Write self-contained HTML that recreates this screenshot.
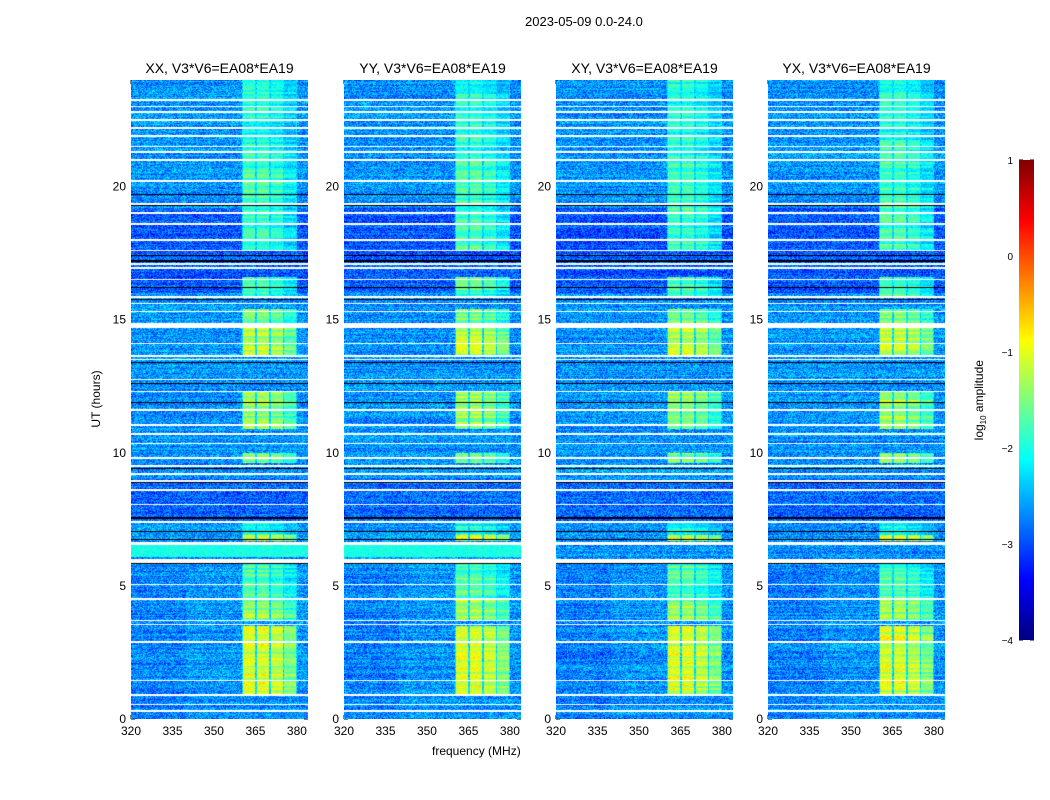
<!DOCTYPE html>
<html><head><meta charset="utf-8">
<style>
body{margin:0;background:#fff;font-family:"Liberation Sans",sans-serif;}
#root{position:relative;width:1050px;height:800px;overflow:hidden;}
.t{position:absolute;white-space:nowrap;color:#000;}
canvas{position:absolute;}
</style></head>
<body>
<div id="root">
<div class="t" style="left:525px;top:14px;font-size:13px;">2023-05-09 0.0-24.0</div>
<div class="t" style="left:432px;top:744px;font-size:12px;">frequency (MHz)</div>
<div class="t" style="left:56px;top:392px;font-size:12px;transform:rotate(-90deg);transform-origin:center;width:80px;text-align:center;">UT (hours)</div>
<div class="t" style="left:930px;top:392px;font-size:12px;transform:rotate(-90deg);width:100px;text-align:center;">log<sub style="font-size:8px">10</sub> amplitude</div>
<svg id="ax" width="1050" height="800" style="position:absolute;left:0;top:0"></svg>
</div>
<script>
const panelTitles=["XX, V3*V6=EA08*EA19","YY, V3*V6=EA08*EA19","XY, V3*V6=EA08*EA19","YX, V3*V6=EA08*EA19"];
const panelLefts=[131,344,556,768];
const xTicks=[320,335,350,365,380];
const yTicks=[0,5,10,15,20];
const cbTicks=[-4,-3,-2,-1,0,1];
const whiteGapHours=[0.3,0.55,0.9,1.45,2.9,3.55,3.7,4.5,5.05,5.9,5.97,6.55,6.62,7.4,8.05,8.6,8.95,9.2,9.5,9.8,10.35,10.7,11.05,11.6,12.3,12.75,13.5,13.63,14.1,14.7,14.8,15.3,15.6,15.85,16.5,16.95,17.1,17.6,18.0,18.6,19.0,19.35,20.2,21.0,21.3,21.5,21.9,22.2,22.5,22.8,23.0,23.25];
const blackLineHours=[5.83,6.75,7.05,7.55,8.9,9.4,11.9,12.6,13.4,15.75,16.2,17.2,17.4,19.3,19.7];
const brightRows=[[0.95,3.5,-1.05],[3.7,4.5,-1.35],[4.5,5.85,-1.75],[6.7,6.9,-1.0],[6.9,7.4,-2.0],[9.6,10.0,-1.5],[10.9,11.9,-1.4],[11.9,12.3,-1.25],[13.6,14.7,-1.2],[14.85,15.4,-1.5],[15.9,16.6,-1.75],[17.6,19.0,-1.8],[19.0,21.0,-1.8],[21.0,24,-1.95]];
const bandColumns=[[360.5,365.0],[365.6,369.8],[370.5,374.8],[375.5,379.6]];
const baseLevel=-2.65;
const cyanRow=[6.1,6.55,-2.0];
const darkRows=[[16.0,19.2,-2.95],[7.4,9.0,-2.85]];
const H0=80,H1=719,F0=320,F1=384,PW=177;
function jet(v){let t=(v+4)/5;t=Math.max(0,Math.min(1,t));
 const r=Math.max(0,Math.min(1,1.5-Math.abs(4*t-3))),g=Math.max(0,Math.min(1,1.5-Math.abs(4*t-2))),b=Math.max(0,Math.min(1,1.5-Math.abs(4*t-1)));
 return [r*255|0,g*255|0,b*255|0];}
function yS(h){return H1-(h/24)*(H1-H0);}
function xS(f,l){return l+(f-F0)/(F1-F0)*PW;}
function hash(a,b,c){let n=(a*374761393+b*668265263+c*2147483647)|0;n=(n^(n>>>13))*1274126177;n=n^(n>>>16);return ((n>>>0)%10000)/10000;}
const root=document.getElementById('root');
const svg=document.getElementById('ax');
const NS='http://www.w3.org/2000/svg';
function mk(tag,attrs){const e=document.createElementNS(NS,tag);for(const k in attrs)e.setAttribute(k,attrs[k]);svg.appendChild(e);return e;}
panelLefts.forEach((L,p)=>{
 const cv=document.createElement('canvas');cv.width=PW;cv.height=H1-H0;cv.style.left=L+'px';cv.style.top=H0+'px';
 
 
 root.appendChild(cv);
 const ctx=cv.getContext('2d');const img=ctx.createImageData(PW,H1-H0);
 const hpp=24/(H1-H0);
 for(let y=0;y<H1-H0;y++){
  const h=24-(y+0.5)*hpp;
  let white=whiteGapHours.some(g=>Math.abs(g-h)<hpp*0.8);
  if(h>14.72&&h<14.86)white=true; if(h>6.52&&h<6.66&&p!=3)white=true;
  let black=blackLineHours.some(g=>Math.abs(g-h)<hpp*0.6);
  let rowBase=baseLevel;
  darkRows.forEach(r=>{if(h>=r[0]&&h<r[1])rowBase=r[2];});
  let cyan=(p<2&&h>=cyanRow[0]&&h<cyanRow[1]);
  let bl=null;brightRows.forEach(r=>{if(h>=r[0]&&h<r[1])bl=r[2];});
  const rowN=hash(y,p,7)*0.3-0.15;
  const rowB=(hash(y>>1,p,11)-0.5)*0.6;
  for(let x=0;x<PW;x++){
   const f=F0+(x+0.5)/PW*(F1-F0);
   let v=rowBase+rowN+(hash(x,y,p)-0.5)*0.9;
   if(f<340&&h<5.8)v-=0.1;
   if(cyan)v=cyanRow[2]+(hash(x,y,p+9)-0.5)*0.4;
   if(bl!==null&&!cyan){
    let inb=-1;bandColumns.forEach((c,i)=>{if(f>=c[0]&&f<c[1])inb=i;});
    if(inb>=0){let lv=bl+(inb==3?-0.45:0)+(inb==2?-0.15:0)+(hash(x,y,p+3)-0.5)*0.45+rowB;v=Math.max(v,lv);}
    else if(f>=360&&f<380)v=Math.max(v,-2.3+(hash(x,y,p+5)-0.5)*0.6);
   }
   let c=jet(v);
   if(white)c=[255,255,255];else if(black)c=[0,0,0];
   const i=(y*PW+x)*4;img.data[i]=c[0];img.data[i+1]=c[1];img.data[i+2]=c[2];img.data[i+3]=255;
  }
 }
 ctx.putImageData(img,0,0);
 const fr=mk('rect',{x:L+0.5,y:H0+0.5,width:PW-1,height:H1-H0-1,fill:'none',stroke:'#000','stroke-width':1});
 
 
 const tt=mk('text',{x:L+PW/2,y:73,'text-anchor':'middle','font-size':14,'font-family':'Liberation Sans'});tt.textContent=panelTitles[p];
 
 
 xTicks.forEach(v=>{const x=xS(v,L);
  mk('line',{x1:x,x2:x,y1:H1,y2:H1-4,stroke:'#000'});mk('line',{x1:x,x2:x,y1:H0,y2:H0+4,stroke:'#000'});
  const t=mk('text',{x:x,y:H1+16,'text-anchor':'middle','font-size':12,'font-family':'Liberation Sans'});t.textContent=v;
  
  });
 yTicks.forEach(v=>{const y=yS(v);
  mk('line',{x1:L,x2:L+4,y1:y,y2:y,stroke:'#000'});mk('line',{x1:L+PW-4,x2:L+PW,y1:y,y2:y,stroke:'#000'});
  const t=mk('text',{x:L-5,y:y+4,'text-anchor':'end','font-size':12,'font-family':'Liberation Sans'});t.textContent=v;
  
  });
});
// colorbar
const CB={x:1019,y0:160,y1:640,w:15};
const cb=document.createElement('canvas');cb.width=CB.w;cb.height=CB.y1-CB.y0;cb.style.left=CB.x+'px';cb.style.top=CB.y0+'px';


root.appendChild(cb);
const cc=cb.getContext('2d');
for(let y=0;y<cb.height;y++){const v=1-5*(y+0.5)/cb.height;const c=jet(v);cc.fillStyle=`rgb(${c[0]},${c[1]},${c[2]})`;cc.fillRect(0,y,CB.w,1);}
mk('rect',{x:CB.x+0.5,y:CB.y0+0.5,width:CB.w-1,height:CB.y1-CB.y0-1,fill:'none',stroke:'#000'});
cbTicks.forEach(v=>{const y=CB.y1-(v+4)/5*(CB.y1-CB.y0);
 mk('line',{x1:CB.x,x2:CB.x+4,y1:y,y2:y,stroke:'#000'});mk('line',{x1:CB.x+CB.w-4,x2:CB.x+CB.w,y1:y,y2:y,stroke:'#000'});
 const t=mk('text',{x:1013,y:y+4,'text-anchor':'end','font-size':10,'font-family':'Liberation Sans'});t.textContent=v<0?'\u2212'+(-v):v;
 
 });
</script>
</body></html>
